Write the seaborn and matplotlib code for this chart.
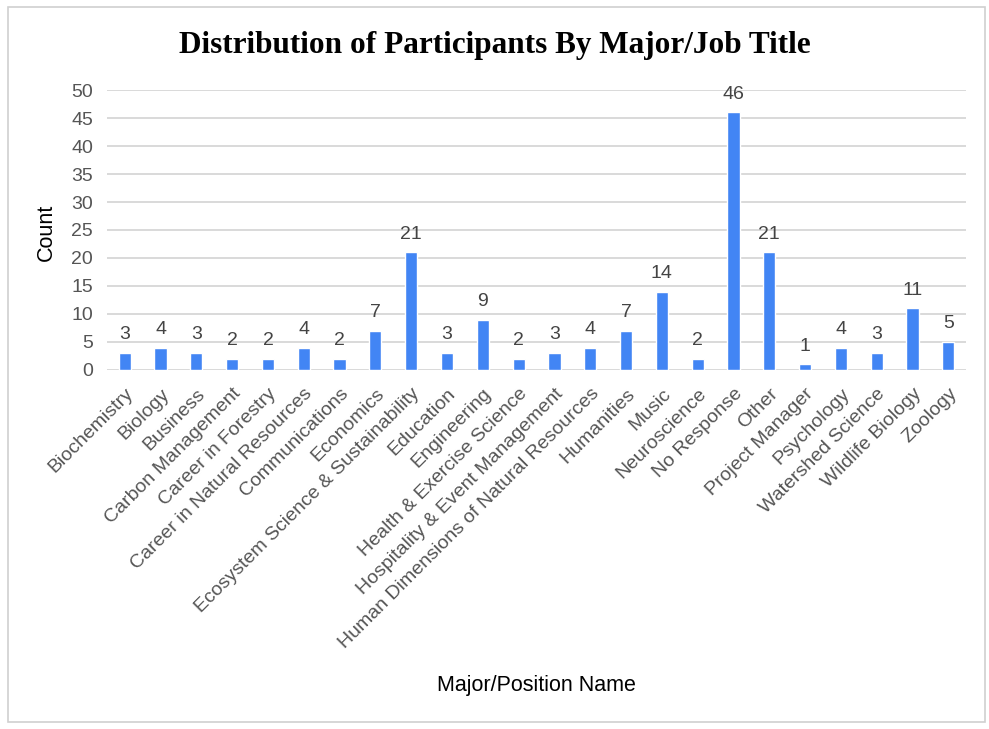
import matplotlib
matplotlib.use("Agg")
import matplotlib.pyplot as plt
from matplotlib.patches import Rectangle
import seaborn as sns
import pandas as pd

categories = [
    "Biochemistry", "Biology", "Business", "Carbon Management", "Career in Forestry",
    "Career in Natural Resources", "Communications", "Economics",
    "Ecosystem Science & Sustainability", "Education", "Engineering",
    "Health & Exercise Science", "Hospitality & Event Management",
    "Human Dimensions of Natural Resources", "Humanities", "Music", "Neuroscience",
    "No Response", "Other", "Project Manager", "Psychology", "Watershed Science",
    "Wildlife Biology", "Zoology",
]
counts = [3, 4, 3, 2, 2, 4, 2, 7, 21, 3, 9, 2, 3, 4, 7, 14, 2, 46, 21, 1, 4, 3, 11, 5]
y_ticks = list(range(0, 55, 5))

df = pd.DataFrame({"name": categories, "count": counts})

sns.set_style("white")
plt.rcParams["font.family"] = ["Liberation Sans", "DejaVu Sans"]

fig = plt.figure(figsize=(9.89, 7.29), dpi=100)
ax = fig.add_axes([0.108, 0.4925, 0.869, 0.384])

sns.barplot(data=df, x="name", y="count", color="#4285F4", width=0.34,
            saturation=1, ax=ax, zorder=3)

# value labels above each bar
for i, v in enumerate(counts):
    ax.annotate(str(v), xy=(i, v), xytext=(0, 7), textcoords="offset points",
                ha="center", va="bottom", fontsize=14, color="#444444")

ax.set_ylim(0, 50)
ax.set_xlim(-0.5, len(categories) - 0.5)
ax.set_yticks(y_ticks)
ax.yaxis.grid(True, color="#d9d9d9", linewidth=1.4, zorder=0)
ax.set_axisbelow(True)
for s in ax.spines.values():
    s.set_visible(False)
ax.tick_params(axis="both", length=0, labelsize=14, colors="#555555")
ax.tick_params(axis="x", pad=11)
ax.tick_params(axis="y", pad=10)
plt.setp(ax.get_xticklabels(), rotation=45, ha="right", rotation_mode="anchor")

ax.set_ylabel("Count", fontsize=15.5, color="black")
ax.yaxis.set_label_coords(57 / 989, 1 - 232 / 729, transform=fig.transFigure)
ax.set_xlabel("Major/Position Name", fontsize=15.5, color="black")
ax.xaxis.set_label_coords(536 / 989, 1 - 675 / 729, transform=fig.transFigure)

fig.text(0.5, 1 - 45 / 729, "Distribution of Participants By Major/Job Title",
         ha="center", va="center", fontsize=22.5, fontweight="bold",
         family=["Liberation Serif", "DejaVu Serif"], color="black")

fig.patches.append(Rectangle((8 / 989, 7 / 729), 977 / 989, 715 / 729,
                             transform=fig.transFigure, fill=False,
                             edgecolor="#d0d0d0", linewidth=1.2))

fig.savefig("out.png", dpi=100)
